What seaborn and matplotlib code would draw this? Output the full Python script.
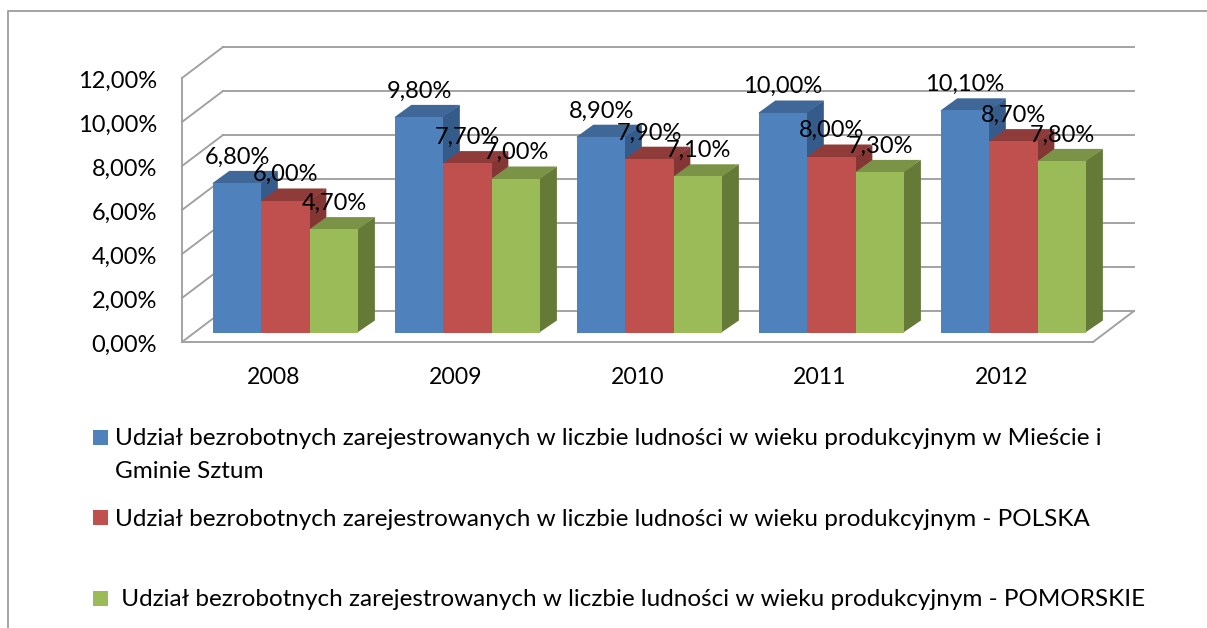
import matplotlib
matplotlib.use("Agg")
import matplotlib.pyplot as plt
import pandas as pd
import seaborn as sns
from matplotlib.lines import Line2D
from matplotlib.patches import Polygon, Rectangle
from matplotlib.transforms import Affine2D, IdentityTransform, blended_transform_factory

years = ["2008", "2009", "2010", "2011", "2012"]
sztum = [6.8, 9.8, 8.9, 10.0, 10.1]
polska = [6.0, 7.7, 7.9, 8.0, 8.7]
pomorskie = [4.7, 7.0, 7.1, 7.3, 7.8]
y_ticks = [0, 2, 4, 6, 8, 10, 12]
series = [
    "Udział bezrobotnych zarejestrowanych w liczbie ludności w wieku produkcyjnym w Mieście i\nGminie Sztum",
    "Udział bezrobotnych zarejestrowanych w liczbie ludności w wieku produkcyjnym - POLSKA",
    " Udział bezrobotnych zarejestrowanych w liczbie ludności w wieku produkcyjnym - POMORSKIE",
]
colors = ["#4F81BD", "#C0504D", "#9BBB59"]
top_colors = ["#3F6797", "#8F3B39", "#7A9346"]
side_colors = ["#355B8A", "#843634", "#667A38"]

W, H = 1207, 628
GREY = "#A0A0A0"
FS = 17
FS_YEAR = 16.6
FS_LEG = 17.43

sns.set_theme(style="white")
plt.rcParams["font.family"] = ["Lato", "DejaVu Sans"]

df = pd.DataFrame({
    "Rok": years * 3,
    "Seria": [s for s in series for _ in years],
    "Udzial": sztum + polska + pomorskie,
})

fig = plt.figure(figsize=(W / 100, H / 100), dpi=100)
ax = fig.add_axes([194.6 / W, 295.5 / H, 910 / W, 264 / H])
sns.barplot(data=df, x="Rok", y="Udzial", hue="Seria", hue_order=series, order=years,
            palette=colors, saturation=1, gap=0, width=0.8, legend=False, ax=ax,
            linewidth=0, errorbar=None)
ax.set_xlim(-0.5, 4.5)
ax.set_ylim(0, 12)
ax.set_xlabel("")
ax.set_ylabel("")
ax.patch.set_alpha(0)
sns.despine(ax=ax, left=True, bottom=True)

# walls and floor of the fake 3d box
front = blended_transform_factory(IdentityTransform(), ax.transData + Affine2D().translate(0, -9.5))
back = blended_transform_factory(IdentityTransform(), ax.transData + Affine2D().translate(0, 21.5))
line_kw = dict(color=GREY, lw=1.35, solid_capstyle="projecting", clip_on=False, zorder=0.5)
y0_px = ax.transData.transform((0, 0))[1]
y_scale = ax.transData.transform((0, 1))[1] - y0_px
for v in y_ticks:
    yb = y0_px + v * y_scale + 21.5
    yf = y0_px + v * y_scale - 9.5
    ax.add_line(Line2D([223, 1134], [v, v], transform=back, **line_kw))
    ax.add_line(Line2D([182, 223], [yf, yb], transform=IdentityTransform(), **line_kw))
ax.add_line(Line2D([182, 182], [0, 12], transform=front, **line_kw))
ax.add_line(Line2D([182, 1093], [0, 0], transform=front, **line_kw))
ax.add_line(Line2D([1093, 1134], [y0_px - 9.5, y0_px + 21.5], transform=IdentityTransform(), **line_kw))

# side and top faces come from the bars seaborn drew
dx = 16.5 / 182
dy = 12 / 22
eps = 0.06  # tuck faces under the front so no white seam shows
for i, cont in enumerate(ax.containers):
    for bar in cont:
        bar.set_zorder(2.1 + i * 0.2)
        x0 = bar.get_x()
        x1 = x0 + bar.get_width()
        h = bar.get_height()
        ax.add_patch(Polygon([(x1 - eps / 10, 0), (x1 + dx, dy), (x1 + dx, h + dy), (x1 - eps / 10, h)],
                             fc=side_colors[i], ec="none", zorder=2.0 + i * 0.2))
        ax.add_patch(Polygon([(x0, h - eps), (x0, h), (x0 + dx, h + dy), (x1 + dx, h + dy), (x1, h), (x1, h - eps)],
                             fc=top_colors[i], ec="none", zorder=2.0 + i * 0.2))
    labs = ax.bar_label(cont, fmt=lambda v: f"{v:.2f}%".replace(".", ","), padding=18.6,
                        fontsize=FS, color="black", zorder=5)
    for t in labs:
        t.set_va("center")

ax.set_yticks(y_ticks)
ax.set_yticklabels([f"{v:.2f}%".replace(".", ",") for v in y_ticks], fontsize=FS, color="black")
ax.tick_params(axis="y", length=0, pad=27)
ax.tick_params(axis="x", length=0, pad=24.5, labelsize=FS_YEAR, labelcolor="black")
for lab in ax.get_yticklabels():
    lab.set_transform(lab.get_transform() + Affine2D().translate(0, -10.5))
for lab in ax.get_xticklabels():
    lab.set_transform(lab.get_transform() + Affine2D().translate(-12.3, 0))

# legend, placed by hand because the rows are not evenly spaced
row_y = [437, 517.5, 598]
for name, c, y in zip(series, colors, row_y):
    fig.add_artist(Rectangle((93, H - y - 7.5), 15, 15, transform=IdentityTransform(), fc=c, ec="none"))
    fig.text(115 / W, 1 - (y - 9) / H, name, fontsize=FS_LEG, color="black", va="top", ha="left",
             linespacing=1.72)

# outer chart border, only left and top survive the crop
fig.add_artist(Line2D([7.5 / W, 7.5 / W, 1], [0, 1 - 10.5 / H, 1 - 10.5 / H],
                      color=GREY, lw=1.35))

fig.savefig("out.png", dpi=100, facecolor="white")
